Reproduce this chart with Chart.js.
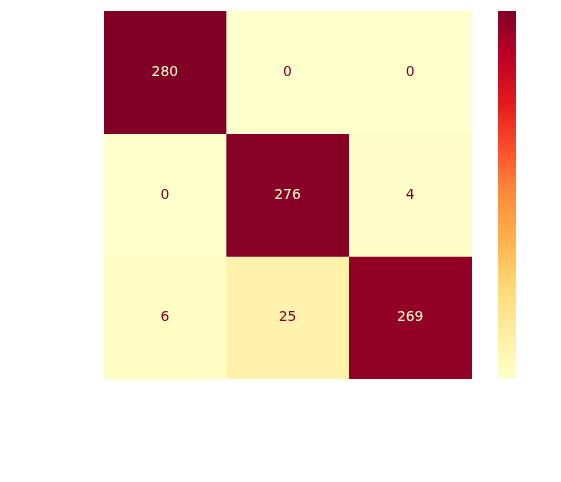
<!DOCTYPE html>
<html>
<head>
<meta charset="utf-8">
<script src="https://cdn.jsdelivr.net/npm/chart.js@4"></script>
<style>
  html, body { margin: 0; padding: 0; background: #ffffff; }
  #wrap { width: 561px; height: 482px; }
</style>
</head>
<body>
<div id="wrap"><canvas id="c" width="561" height="482"></canvas></div>
<script>
// ---- data ----
const colLabels = ['0', '1', '2'];
const rowLabels = ['0', '1', '2'];
const row0 = [280, 0, 0];
const row1 = [0, 276, 4];
const row2 = [6, 25, 269];
const rows = [row0, row1, row2];
const vmin = 0;
const vmax = 280;

// ---- YlOrRd colormap ----
const ylorrd = ['#ffffcc', '#ffeda0', '#fed976', '#feb24c', '#fd8d3c', '#fc4e2a', '#e31a1c', '#bd0026', '#800026'];
function hex2rgb(h) { return [parseInt(h.slice(1,3),16), parseInt(h.slice(3,5),16), parseInt(h.slice(5,7),16)]; }
const anchors = ylorrd.map(hex2rgb);
function cmap(t) {
  t = Math.max(0, Math.min(1, t));
  const p = t * (anchors.length - 1);
  const i = Math.min(Math.floor(p), anchors.length - 2);
  const f = p - i;
  const a = anchors[i], b = anchors[i + 1];
  const c = a.map((v, k) => Math.round(v + (b[k] - v) * f));
  return 'rgb(' + c.join(',') + ')';
}
const norm = v => (v - vmin) / (vmax - vmin);

const datasets = rows.map((r, i) => ({
  label: rowLabels[i],
  data: r.map(() => [i, i + 1]),
  values: r,
  backgroundColor: r.map(v => cmap(norm(v))),
  borderWidth: 0,
  grouped: false,
  barPercentage: 1.0,
  categoryPercentage: 1.0
}));

const annotate = {
  id: 'annotate',
  afterDatasetsDraw(chart) {
    const ctx = chart.ctx;
    ctx.save();
    ctx.font = '13.9px "DejaVu Sans"';
    ctx.textAlign = 'center';
    ctx.textBaseline = 'middle';
    chart.data.datasets.forEach((ds, di) => {
      const meta = chart.getDatasetMeta(di);
      meta.data.forEach((el, j) => {
        const v = ds.values[j];
        const c = el.getCenterPoint();
        ctx.fillStyle = norm(v) > 0.5 ? cmap(0) : cmap(1);
        ctx.fillText(String(v), c.x - 0.5, c.y);
      });
    });
    ctx.restore();
  }
};

const colorbar = {
  id: 'colorbar',
  afterDraw(chart) {
    const ctx = chart.ctx;
    const a = chart.chartArea;
    const x0 = a.right + 26, w = 18;
    const g = ctx.createLinearGradient(0, a.bottom, 0, a.top);
    for (let k = 0; k <= 32; k++) g.addColorStop(k / 32, cmap(k / 32));
    ctx.save();
    ctx.fillStyle = g;
    ctx.fillRect(x0, a.top, w, a.bottom - a.top);
    ctx.restore();
  }
};

const bg = {
  id: 'bg',
  beforeDraw(chart) {
    const ctx = chart.ctx;
    ctx.save();
    ctx.fillStyle = '#ffffff';
    ctx.fillRect(0, 0, chart.width, chart.height);
    ctx.restore();
  }
};

new Chart(document.getElementById('c'), {
  type: 'bar',
  data: { labels: colLabels, datasets },
  options: {
    responsive: false,
    animation: false,
    layout: { padding: { left: 104, top: 11, right: 89, bottom: 103 } },
    plugins: { legend: { display: false }, tooltip: { enabled: false } },
    scales: {
      x: { type: 'category', display: false, offset: true, grid: { display: false } },
      y: { type: 'linear', display: false, min: 0, max: 3, reverse: true, grid: { display: false } }
    }
  },
  plugins: [bg, annotate, colorbar]
});
</script>
</body>
</html>
